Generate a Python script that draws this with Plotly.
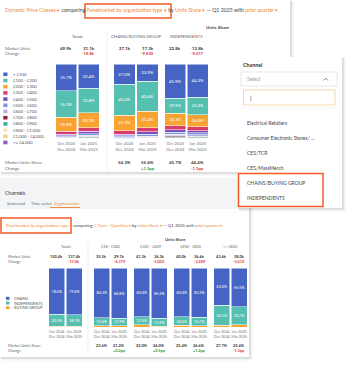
import plotly.graph_objects as go

W, H = 356, 371

# ---------------- data : top chart ----------------
periods = ["Oct 2024<br>Dec 2024", "Jan 2025<br>Mar 2025"]
top_groups = ["Totals", "CHAINS/BUYING GROUP", "INDEPENDENTS"]
price_classes = ["< €100", "€100 - €200", "€200 - €300", "€300 - €400", "€400 - €500",
                 "€500 - €600", "€600 - €700", "€700 - €800", "€800 - €900",
                 "€900 - €1,000", "€1,000 - €4,000", ">= €4,000"]
price_colors = ["#4564c4", "#55bfb0", "#f8a332", "#d93d6b", "#7a4fc0", "#7c96e0",
                "#b8b1e2", "#8e1d44", "#3eaf9f", "#fbe2c8", "#f9c985", "#8a5ac8"]
totals_oct = [35.7, 35.3, 18.9, 3.6, 2.1, 1.4, 0.9, 0.6, 0.5, 0.4, 0.4, 0.2]
totals_jan = [32.4, 32.8, 20.1, 4.6, 2.8, 2.2, 1.5, 0.9, 0.9, 0.7, 0.7, 0.4]
chains_oct = [27.0, 41.0, 21.2, 4.2, 2.4, 1.5, 1.0, 0.8, 0.4, 0.3, 0.1, 0.1]
chains_jan = [22.9, 40.4, 21.4, 5.6, 3.3, 2.5, 1.5, 0.9, 0.7, 0.4, 0.3, 0.1]
indep_oct = [45.9, 19.9, 16.3, 5.5, 3.6, 2.6, 1.9, 1.4, 1.1, 0.7, 0.7, 0.4]
indep_jan = [44.3, 23.2, 16.4, 4.9, 3.1, 2.4, 1.7, 1.2, 1.0, 0.7, 0.7, 0.4]
top_units_prev = ["49.9k", "27.1k", "22.8k"]
top_units_curr = ["31.1k", "17.3k", "13.8k"]
top_units_change = ["-18.8k", "-9,830", "-9,017"]
top_share_prev = ["", "54.3%", "45.7%"]
top_share_curr = ["", "55.6%", "44.4%"]
top_share_change = ["", "+1.3pp", "-1.3pp"]

# ---------------- data : bottom chart ----------------
bottom_groups = ["Totals", "€18 - €300", "€301 - €449", "€450 - €820", ">= €820"]
org_types = ["CHAINS", "INDEPENDENTS", "BUYING GROUP"]
org_colors = ["#4564c4", "#55bfb0", "#f8a332"]
chains_share_oct = [78.0, 84.3, 83.0, 83.0, 63.0]
chains_share_jan = [79.6, 84.8, 85.2, 83.3, 65.5]
indep_share_oct = [20.5, 13.6, 13.5, 14.0, 34.1]
indep_share_jan = [18.7, 12.9, 13.6, 14.7, 30.7]
buying_share_oct = [1.5, 2.1, 3.5, 3.0, 2.9]
buying_share_jan = [1.7, 2.3, 1.2, 2.0, 3.8]
bot_units_prev = ["150.4k", "35.5k", "41.3k", "40.0k", "43.6k"]
bot_units_curr = ["137.4k", "29.1k", "36.3k", "36.6k", "38.0k"]
bot_units_change = ["-13.0k", "-6,379", "-5,003", "-3,409", "-5,610"]
bot_share_prev = ["", "23.6%", "25.0%", "25.4%", "27.7%"]
bot_share_curr = ["", "21.2%", "26.0%", "26.6%", "25.4%"]
bot_share_change = ["", "+0.2pp", "+0.5pp", "+1.2pp", "-1.3pp"]

channel_options = ["Electrical Retailers", "Consumer Electronic Stores/ ...", "CES/TCR",
                   "CES/MassMerch", "CHAINS/BUYING GROUP", "INDEPENDENTS"]

# ---------------- helpers ----------------
FONT = "Lato"
ORANGE = "#f08a3c"
HILITE = "#f15a24"
RED = "#e0393e"
GREEN = "#3a9a3a"


def X(px):
    return px / W


def Y(py):
    return 1 - py / H


shapes = []
annotations = []


def rect(x0, y0, x1, y1, fill="rgba(0,0,0,0)", line=None, lw=0):
    shapes.append(dict(type="rect", xref="paper", yref="paper", x0=X(x0), x1=X(x1),
                       y0=Y(y1), y1=Y(y0), fillcolor=fill, layer="below",
                       line=dict(color=line or "rgba(0,0,0,0)", width=lw)))


def card(x0, y0, x1, y1):
    rect(x0 + 1, y0 + 1, x1 + 3.5, y1 + 3.5, fill="rgba(0,0,0,0.05)")
    rect(x0 + 0.5, y0 + 0.5, x1 + 1.8, y1 + 1.8, fill="rgba(0,0,0,0.09)")
    rect(x0, y0, x1, y1, fill="white")


def line(x0, y0, x1, y1, color="#e3e3e3", lw=0.6):
    shapes.append(dict(type="line", xref="paper", yref="paper", x0=X(x0), x1=X(x1),
                       y0=Y(y0), y1=Y(y1), layer="below", line=dict(color=color, width=lw)))


def text(t, x, y, size=4.5, color="#555", anchor="left", bold=False, xref="paper"):
    annotations.append(dict(text=f"<b>{t}</b>" if bold else t,
                            x=X(x) if xref == "paper" else x, y=Y(y),
                            xref=xref, yref="paper", xanchor=anchor, yanchor="middle",
                            showarrow=False, font=dict(family=FONT, size=size, color=color)))


def otext(t):
    return f'<span style="color:{ORANGE}">{t} ▾</span>'


# ---------------- cards ----------------
card(0, 0, 290, 172)
card(0, 177, 249, 357)
rect(0, 178, 249, 209, fill="#f3f4f6")
card(238, 57, 342, 208)

fig = go.Figure()


def xaxis_style(dom, anchor, size):
    return dict(domain=[X(dom[0]), X(dom[1])], anchor=anchor,
                type="category", categoryorder="array", categoryarray=periods,
                showgrid=False, showline=False, zeroline=False, ticks="", tickangle=0,
                tickfont=dict(family=FONT, size=size, color="#777"),
                ticklabelstandoff=1, fixedrange=True)


# ---------------- top chart ----------------
top_domains = [(55, 100), (113, 159), (164, 209)]
top_data = [(totals_oct, totals_jan), (chains_oct, chains_jan), (indep_oct, indep_jan)]
layout_axes = {}
for g, (dom, (oct_v, jan_v)) in enumerate(zip(top_domains, top_data)):
    ax = g + 1
    xs = "" if ax == 1 else str(ax)
    for i in reversed(range(len(price_classes))):
        vals = [oct_v[i], jan_v[i]]
        fig.add_bar(x=periods, y=vals, xaxis="x" + xs, yaxis="y" + xs,
                    marker=dict(color=price_colors[i], line=dict(color="white", width=0.5)),
                    width=0.93, text=[f"{v:.1f}%" if v >= 10 else "" for v in vals],
                    textposition="inside", insidetextanchor="middle", textangle=0,
                    constraintext="none",
                    textfont=dict(family=FONT, size=4.3, color="white"),
                    showlegend=False, hoverinfo="skip", name=price_classes[i])
    layout_axes["xaxis" + xs] = xaxis_style(dom, "y" + xs, 4.2)
    layout_axes["yaxis" + xs] = dict(domain=[Y(139), Y(64)], anchor="x" + xs, range=[0, 100],
                                     visible=False, fixedrange=True)
    xr = "x" + xs
    annotations.append(dict(text=top_groups[g], x=0.5, xref=xr + " domain", y=Y(37), yref="paper",
                            showarrow=False, yanchor="middle",
                            font=dict(family=FONT, size=4.3, color="#666")))
    text(top_units_prev[g], periods[0], 49, 4.4, "#333", "center", True, xref=xr)
    text(top_units_curr[g], periods[1], 49, 4.4, "#333", "center", True, xref=xr)
    text(top_units_change[g], periods[1], 54, 4.2, RED, "center", True, xref=xr)
    if top_share_prev[g]:
        text(top_share_prev[g], periods[0], 162, 4.4, "#333", "center", True, xref=xr)
        text(top_share_curr[g], periods[1], 162, 4.4, "#333", "center", True, xref=xr)
        col = GREEN if top_share_change[g].startswith("+") else RED
        text(top_share_change[g], periods[1], 168, 4.2, col, "center", True, xref=xr)

# top texts
title_top = (otext("Dynamic Price Classes") + " comparing " + otext("Panelmarket by organization type")
             + " by " + otext("Units Share") + " — Q1 2025 with " + otext("prior quarter"))
text(title_top, 3, 10, 5.2, "#444")
rect(85, 4, 171, 18, line=HILITE, lw=1.5)
text("Units Share", 218, 27, 4.5, "#444", "center", True)
line(107, 30, 107, 171)
text("Market Units", 3, 49, 4.4, "#666")
text("Change", 3, 54, 4.4, "#666")
text("Market Units Share", 3, 162, 4.4, "#666")
text("Change", 3, 168, 4.4, "#666")
for i, (name, col) in enumerate(zip(price_classes, price_colors)):
    yy = 74.3 + 6.2 * i
    rect(3.3, yy - 1.8, 7.5, yy + 1.8, fill=col)
    text(name, 11, yy, 4.3, "#555")

# ---------------- bottom chart ----------------
bot_domains = [(48, 83), (93, 128), (133, 168), (173, 208), (213, 248)]
bot_series = [(chains_share_oct, chains_share_jan), (indep_share_oct, indep_share_jan),
              (buying_share_oct, buying_share_jan)]
for g, dom in enumerate(bot_domains):
    ax = g + 4
    xs = str(ax)
    for i in reversed(range(len(org_types))):
        vals = [bot_series[i][0][g], bot_series[i][1][g]]
        fig.add_bar(x=periods, y=vals, xaxis="x" + xs, yaxis="y" + xs,
                    marker=dict(color=org_colors[i], line=dict(color="white", width=0.5)),
                    width=0.91, text=[f"{v:.1f}%" if v >= 10 else "" for v in vals],
                    textposition="inside", insidetextanchor="middle", textangle=0,
                    constraintext="none",
                    textfont=dict(family=FONT, size=3.8, color="white"),
                    showlegend=False, hoverinfo="skip", name=org_types[i])
    layout_axes["xaxis" + xs] = xaxis_style(dom, "y" + xs, 3.7)
    layout_axes["yaxis" + xs] = dict(domain=[Y(327), Y(268)], anchor="x" + xs, range=[0, 100],
                                     visible=False, fixedrange=True)
    xr = "x" + xs
    annotations.append(dict(text=bottom_groups[g], x=0.5, xref=xr + " domain", y=Y(247), yref="paper",
                            showarrow=False, yanchor="middle",
                            font=dict(family=FONT, size=3.8, color="#666")))
    text(bot_units_prev[g], periods[0], 256, 3.9, "#333", "center", True, xref=xr)
    text(bot_units_curr[g], periods[1], 256, 3.9, "#333", "center", True, xref=xr)
    text(bot_units_change[g], periods[1], 261, 3.8, RED, "center", True, xref=xr)
    if bot_share_prev[g]:
        text(bot_share_prev[g], periods[0], 345, 3.9, "#333", "center", True, xref=xr)
        text(bot_share_curr[g], periods[1], 345, 3.9, "#333", "center", True, xref=xr)
        col = GREEN if bot_share_change[g].startswith("+") else RED
        text(bot_share_change[g], periods[1], 350, 3.8, col, "center", True, xref=xr)

text("Channels", 3, 193, 5, "#333")
text("Scorecard", 5, 203, 4.2, "#666")
text("Time series", 29, 203, 4.2, "#666")
text("Segmentation", 52, 203, 4.2, ORANGE)
line(50, 207.5, 80, 207.5, color=ORANGE, lw=1)
title_bot = (otext("Panelmarket by organization type") + " comparing " + otext("€ Tiers - Quartiles")
             + " by " + otext("Units Share") + " — Q1 2025 with " + otext("prior quarter"))
text(title_bot, 4, 226, 4.3, "#444")
rect(1, 218, 71, 233, line=HILITE, lw=1.5)
text("Units Share", 175, 239, 4, "#444", "center", True)
line(88, 242, 88, 355)
text("Market Units", 6, 256, 3.9, "#666")
text("Change", 6, 261, 3.9, "#666")
text("Market Units Share", 6, 345, 3.9, "#666")
text("Change", 6, 350, 3.9, "#666")
for i, (name, col) in enumerate(zip(org_types, org_colors)):
    yy = 298.3 + 4.7 * i
    rect(6, yy - 1.5, 9.5, yy + 1.5, fill=col)
    text(name, 12, yy, 3.8, "#555")

# ---------------- dropdown ----------------
text("Channel", 241, 65, 5.3, "#333", bold=True)
rect(241, 72, 337, 86, fill="white", line="#d8d8d8", lw=0.6)
text("Select", 245, 79, 5, "#9a9a9a")
shapes.append(dict(type="path", xref="paper", yref="paper",
                   path=f"M {X(323.5)},{Y(80.5)} L {X(325.8)},{Y(78)} L {X(328)},{Y(80.5)}",
                   line=dict(color="#555", width=0.7)))
rect(243.5, 90, 335, 105, fill="white", line="#f5d8aa", lw=1)
text("|", 248, 97.5, 6, "#333")
line(241, 108, 337, 108, color="#eeeeee", lw=0.6)
for i, opt in enumerate(channel_options):
    text(opt, 245, 122.5 + 15 * i, 5, "#444")
rect(238.5, 173.5, 323, 206.5, line=HILITE, lw=1.5)

fig.update_layout(width=W, height=H, margin=dict(l=0, r=0, t=0, b=0),
                  paper_bgcolor="white", plot_bgcolor="rgba(0,0,0,0)",
                  barmode="stack", showlegend=False,
                  shapes=shapes, annotations=annotations, **layout_axes)

fig.write_html("out.html", config={"displayModeBar": False},
               post_script="document.body.style.margin='0';document.body.style.overflow='hidden';")
